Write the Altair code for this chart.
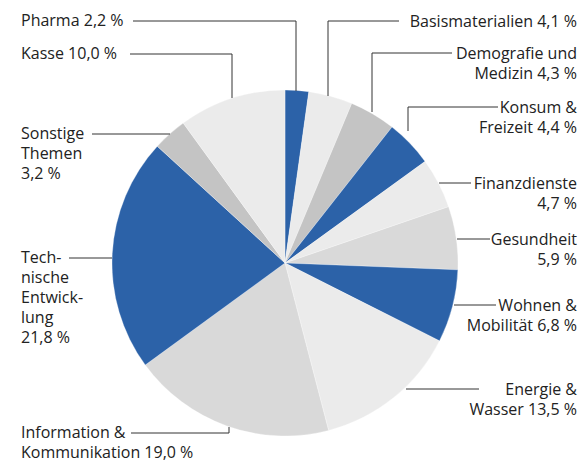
import altair as alt
import pandas as pd

# ---- data ----
categories = ["Pharma", "Basismaterialien", "Demografie und Medizin", "Konsum & Freizeit",
              "Finanzdienste", "Gesundheit", "Wohnen & Mobilität", "Energie & Wasser",
              "Information & Kommunikation", "Technische Entwicklung", "Sonstige Themen", "Kasse"]
values = [2.2, 4.1, 4.3, 4.4, 4.7, 5.9, 6.8, 13.5, 19.0, 21.8, 3.2, 10.0]
label_names = ["Pharma", "Basismaterialien", "Demografie und\nMedizin", "Konsum &\nFreizeit",
               "Finanzdienste\n", "Gesundheit\n", "Wohnen &\nMobilität", "Energie &\nWasser",
               "Information &\nKommunikation", "Tech-\nnische\nEntwick-\nlung\n", "Sonstige\nThemen\n", "Kasse"]

# ---- styles / layout ----
BLUE, PALE, LIGHT, MID = "#2c62a8", "#ebebeb", "#d9d9d9", "#c4c4c4"
slice_colors = [BLUE, PALE, MID, BLUE, PALE, LIGHT, BLUE, PALE, LIGHT, BLUE, MID, PALE]
RX = 577
# label anchor (x, y of first line centre, align) in page pixels
label_pos = [(21, 21, "left"), (RX, 22, "right"), (RX, 54, "right"), (RX, 108, "right"),
             (RX, 184, "right"), (RX, 240, "right"), (RX, 306, "right"), (RX, 390, "right"),
             (21, 433, "left"), (21, 258, "left"), (21, 134, "left"), (21, 54, "left")]
leaders = [[(133, 21), (296, 21), (296, 91)],
           [(399, 21), (328, 21), (328, 96)],
           [(452, 53), (372, 53), (372, 112)],
           [(498, 107), (408, 107), (408, 131)],
           [(471, 183), (439, 183)],
           [(490, 239), (457, 239)],
           [(496, 305), (454, 305)],
           [(479, 389), (406, 389)],
           [(131, 433), (229, 433), (229, 427)],
           [(69, 258), (112, 258)],
           [(92, 134), (170, 134)],
           [(130, 54), (232, 54), (232, 98)]]

W, H = 570, 454
CX, CY, R = 277, 255, 173
FONT = "Open Sans"


def fmt(v):
    return f"{v:.1f}".replace(".", ",") + " %"


def make_label(name, v):
    if name.endswith("\n"):
        return name + fmt(v)
    return name + " " + fmt(v)


pie_df = pd.DataFrame({"cat": categories, "value": values, "idx": range(len(values))})

lab_rows = []
for i, (n, v) in enumerate(zip(label_names, values)):
    x, y, a = label_pos[i]
    lab_rows.append({"text": make_label(n, v), "x": x, "y": y, "align": a})
lab_df = pd.DataFrame(lab_rows)

seg_rows = []
for pts in leaders:
    for (x1, y1), (x2, y2) in zip(pts[:-1], pts[1:]):
        seg_rows.append({"x": x1, "y": y1, "x2": x2, "y2": y2})
seg_df = pd.DataFrame(seg_rows)

xs = alt.Scale(domain=[8, 8 + W], range=[0, W])
ys = alt.Scale(domain=[8, 8 + H], range=[0, H])

pie = alt.Chart(pie_df).mark_arc(radius=R, stroke="white", strokeWidth=0.3).encode(
    theta=alt.Theta("value:Q", stack=True),
    order=alt.Order("idx:Q"),
    color=alt.Color("cat:N", scale=alt.Scale(domain=categories, range=slice_colors), legend=None),
    x=alt.value(CX), y=alt.value(CY),
)

rules = alt.Chart(seg_df).mark_rule(color="#333333", strokeWidth=1).encode(
    x=alt.X("x:Q", scale=xs, axis=None), y=alt.Y("y:Q", scale=ys, axis=None),
    x2="x2:Q", y2="y2:Q",
)


def text_layer(align):
    return alt.Chart(lab_df[lab_df["align"] == align]).mark_text(
        align=align, baseline="middle", font=FONT, fontSize=16, lineHeight=20,
        lineBreak="\n", color="#222222",
    ).encode(
        x=alt.X("x:Q", scale=xs, axis=None), y=alt.Y("y:Q", scale=ys, axis=None),
        text="text:N",
    )


chart = alt.layer(pie, rules, text_layer("left"), text_layer("right")).properties(
    width=W, height=H, padding=0, autosize="none", background="white"
).configure_view(stroke=None)

chart.save("out.html", embed_options={"renderer": "svg", "actions": False})
